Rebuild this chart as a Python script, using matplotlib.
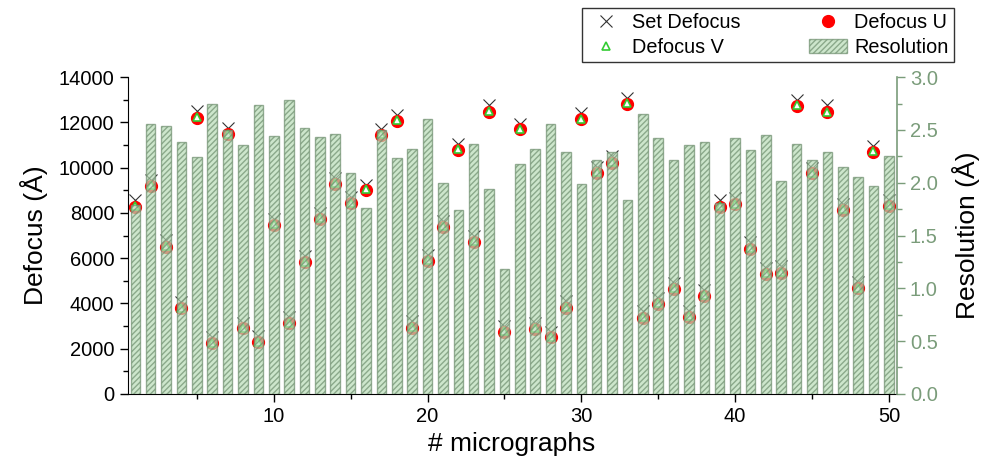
import numpy as np
import matplotlib
matplotlib.use('Agg')
import matplotlib.pyplot as plt
from matplotlib.ticker import MultipleLocator

plt.rcParams['font.family'] = ['Liberation Sans', 'DejaVu Sans']

# micrograph index
micrographs = np.arange(1, 51)

# nominal defocus set during collection (A)
set_defocus = [8550, 9450, 6800, 4050, 12500, 2500, 11750, 3150, 2550, 7750,
               3400, 6100, 8000, 9550, 8700, 9250, 11700, 12350, 3200, 6150,
               7650, 11050, 7000, 12750, 3000, 11950, 3150, 2750, 4100, 12400,
               10050, 10500, 13100, 3650, 4250, 4900, 3650, 4600, 8550, 8650,
               6700, 5550, 5650, 13000, 10000, 12750, 8400, 4950, 10950, 8550]

# fitted defocus along the two astigmatism axes (A)
defocus_u = [8270, 9190, 6510, 3780, 12200, 2240, 11470, 2890, 2280, 7460,
             3120, 5820, 7740, 9290, 8420, 9010, 11440, 12060, 2930, 5890,
             7390, 10780, 6710, 12470, 2740, 11690, 2870, 2500, 3810, 12130,
             9780, 10220, 12820, 3370, 3980, 4640, 3390, 4340, 8270, 8380,
             6420, 5300, 5360, 12720, 9750, 12440, 8140, 4670, 10700, 8300]

defocus_v = [8300, 9220, 6540, 3810, 12230, 2270, 11500, 2920, 2310, 7490,
             3150, 5850, 7770, 9320, 8450, 9040, 11470, 12090, 2960, 5920,
             7420, 10810, 6740, 12500, 2770, 11720, 2900, 2530, 3840, 12160,
             9810, 10250, 12850, 3400, 4010, 4670, 3420, 4370, 8300, 8410,
             6450, 5330, 5390, 12750, 9780, 12470, 8170, 4700, 10730, 8330]

# estimated resolution per micrograph (A)
resolution = [1.79, 2.56, 2.54, 2.39, 2.24, 2.75, 2.50, 2.36, 2.74, 2.44,
              2.78, 2.52, 2.43, 2.46, 2.09, 1.76, 2.50, 2.23, 2.32, 2.60,
              2.00, 1.74, 2.37, 1.94, 1.18, 2.18, 2.32, 2.56, 2.29, 1.99,
              2.22, 2.29, 1.84, 2.65, 2.42, 2.22, 2.36, 2.39, 1.81, 2.42,
              2.31, 2.45, 2.02, 2.37, 2.22, 2.29, 2.15, 2.05, 1.97, 2.25]

green_axis = '#7a9c7a'

fig = plt.figure(figsize=(9.82, 4.65), dpi=100)
ax1 = fig.add_axes([0.130, 0.153, 0.783, 0.681])
ax2 = ax1.twinx()

# defocus markers on the left axis
h_set, = ax1.plot(micrographs, set_defocus, linestyle='none', marker='x',
                  markersize=8, markeredgewidth=0.8, color='#333333', label='Set Defocus')
h_u, = ax1.plot(micrographs, defocus_u, linestyle='none', marker='o',
                markersize=8.5, color='red', markeredgecolor='red', label='Defocus U')
h_v, = ax1.plot(micrographs, defocus_v, linestyle='none', marker='^',
                markersize=6, markerfacecolor='white', markeredgecolor='#33cc33',
                markeredgewidth=1.2, label='Defocus V')

# resolution bars on the right axis, drawn over the markers
bars = ax2.bar(micrographs, resolution, width=0.62, color='#b9dcb7', alpha=0.7,
               edgecolor='#6f8f6f', linewidth=1.0, hatch='//////', label='Resolution')

ax1.set_xlim(0.5, 50.5)
ax1.set_ylim(0, 14000)
ax2.set_ylim(0, 3.0)

ax1.xaxis.set_major_locator(MultipleLocator(10))
ax1.xaxis.set_minor_locator(MultipleLocator(5))
ax1.yaxis.set_major_locator(MultipleLocator(2000))
ax1.yaxis.set_minor_locator(MultipleLocator(1000))
ax2.yaxis.set_major_locator(MultipleLocator(0.5))
ax2.yaxis.set_minor_locator(MultipleLocator(0.25))
ax2.yaxis.set_major_formatter(lambda v, p: f'{v:.1f}')

ax1.tick_params(axis='both', which='major', direction='out', length=6, width=1, labelsize=14.5)
ax1.tick_params(axis='both', which='minor', direction='out', length=3.5, width=1)
ax2.tick_params(axis='y', which='major', direction='out', length=6, width=1,
                colors=green_axis, labelsize=14.5)
ax2.tick_params(axis='y', which='minor', direction='out', length=3.5, width=1, colors=green_axis)

for ax in (ax1, ax2):
    ax.spines['top'].set_visible(False)
ax1.spines['right'].set_visible(False)
ax2.spines['left'].set_visible(False)
ax2.spines['bottom'].set_visible(False)
ax2.spines['right'].set_color(green_axis)
ax2.spines['right'].set_linewidth(1.2)

ax1.set_xlabel('# micrographs', fontsize=19, labelpad=4)
ax1.set_ylabel('Defocus (Å)', fontsize=19, labelpad=8)
ax2.set_ylabel('Resolution (Å)', fontsize=19, labelpad=10)

leg = fig.legend([h_set, h_v, h_u, bars[0]],
                 ['Set Defocus', 'Defocus V', 'Defocus U', 'Resolution'],
                 ncol=2, loc='upper right', bbox_to_anchor=(0.971, 0.983),
                 borderaxespad=0, fontsize=14.3, frameon=True, fancybox=False,
                 edgecolor='black', borderpad=0.25, labelspacing=0.3,
                 handlelength=1.95, columnspacing=3.4, handletextpad=0.35)
leg.get_frame().set_linewidth(1.0)

fig.savefig('out.png', dpi=100)
